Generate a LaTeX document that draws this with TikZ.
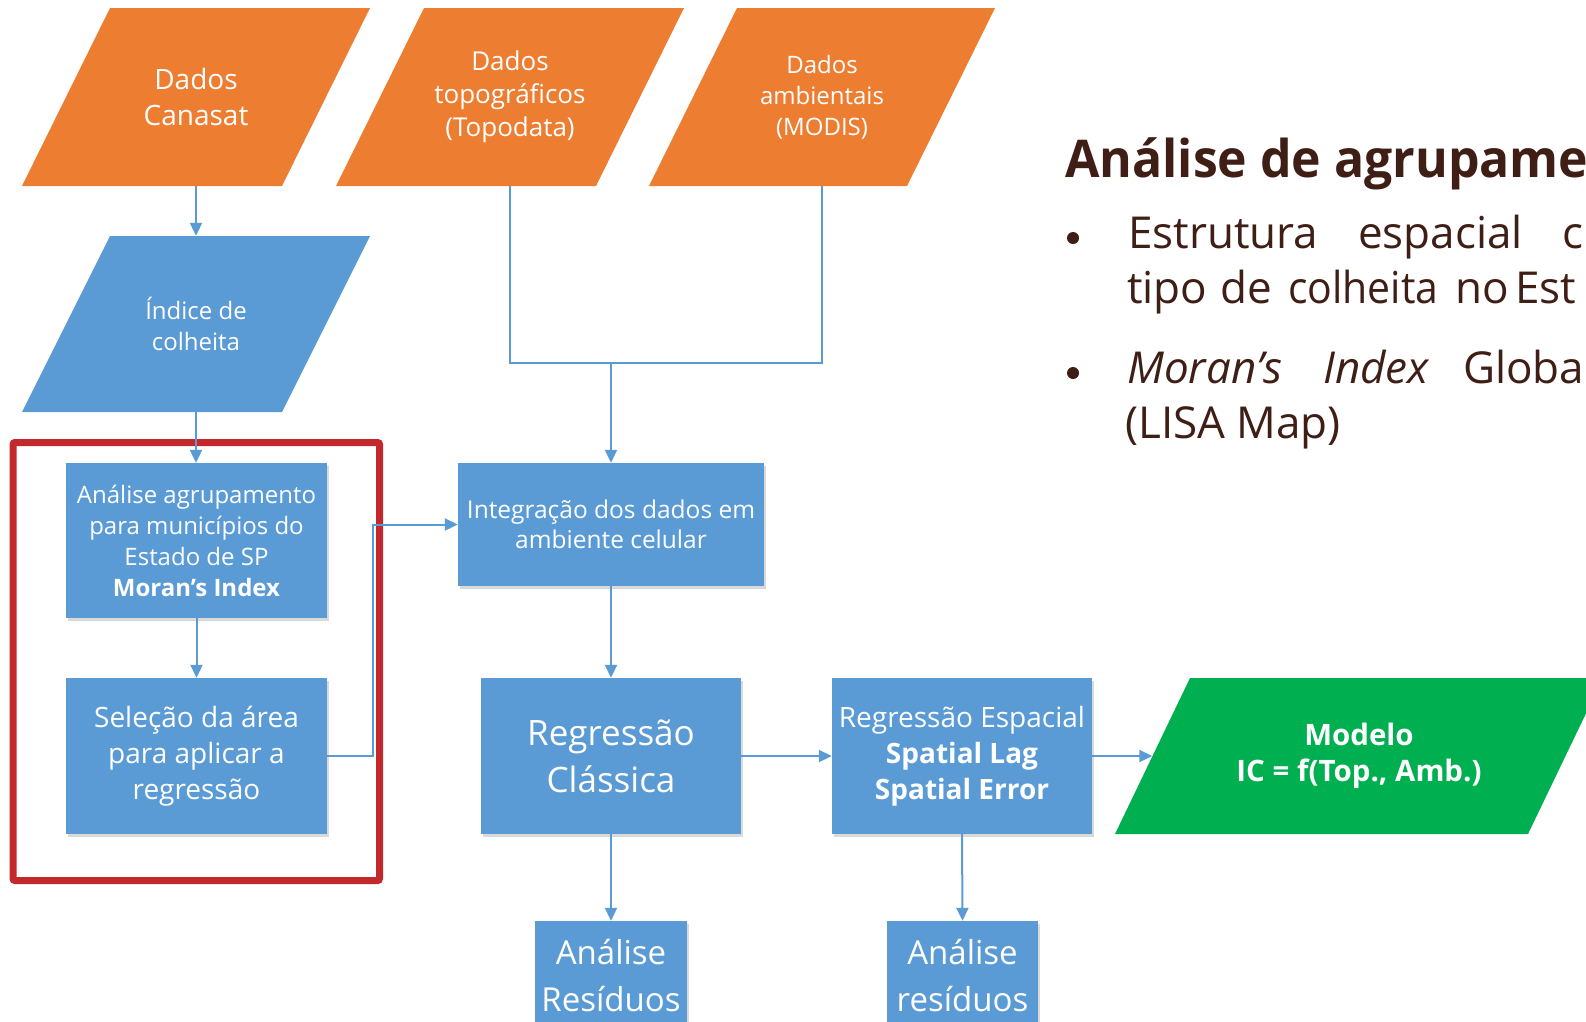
\documentclass[tikz,border=0pt]{standalone}
\usepackage{fontspec}
\setmainfont{Open Sans}
\newfontfamily\titlefont[FakeStretch=0.96]{Open Sans}
\newfontfamily\narrowfont[FakeStretch=0.93]{Open Sans}
\usetikzlibrary{arrows.meta,shadows}
\definecolor{boxblue}{HTML}{5B9BD5}
\definecolor{orng}{HTML}{ED7D31}
\definecolor{grn}{HTML}{00AF50}
\definecolor{redbox}{HTML}{C3282C}
\definecolor{brownt}{HTML}{3F1E16}
\definecolor{linkblue}{HTML}{5B9BD5}
\tikzset{
  fs/.style 2 args={font=\fontsize{#1}{#2}\selectfont},
  fsb/.style 2 args={font=\bfseries\fontsize{#1}{#2}\selectfont},
  rbox/.style={rectangle, fill=boxblue, text=white, inner sep=0pt, align=center,
    drop shadow={shadow xshift=1.5pt, shadow yshift=-2.5pt, opacity=0.15, fill=black}},
  pbox/.style n args={2}{rectangle, inner sep=0pt, align=center, text=white,
    path picture={\fill[#1] ([xshift=#2]path picture bounding box.north west)
      -- (path picture bounding box.north east)
      -- ([xshift=-#2]path picture bounding box.south east)
      -- (path picture bounding box.south west) -- cycle;}},
  link/.style={draw=linkblue, line width=2pt},
  conn/.style={link, -{Triangle[length=13pt,width=12pt]}},
  rtext/.style={anchor=base west, inner sep=0pt, text=brownt, font=\fontsize{44}{54}\selectfont},
  bul/.style={circle, fill=brownt, inner sep=0pt, minimum size=12pt}
}
\begin{document}
\begin{tikzpicture}[x=1pt,y=-1pt]
\useasboundingbox (0,0) rectangle (1586,1021);
\clip (0,0) rectangle (1586,1021);
\fill[white] (0,0) rectangle (1586,1021);

% input parallelograms
\node[pbox={orng}{88pt}, minimum width=348pt, minimum height=178pt, fs={28}{36}] (canasat) at (196,97) {Dados\\Canasat};
\node[pbox={orng}{88pt}, minimum width=348pt, minimum height=178pt, fs={26}{33}] (topo) at (510,97) {Dados\\topográficos\\(Topodata)};
\node[pbox={orng}{88pt}, minimum width=346pt, minimum height=178pt, fs={24}{31}] (amb) at (822,97) {Dados\\ambientais\\(MODIS)};
\node[pbox={boxblue}{88pt}, minimum width=348pt, minimum height=176pt, fs={24}{31}] (indice) at (196,324) {Índice de\\colheita};

% red frame
\node[draw=redbox, line width=7pt, rounded corners=2pt, minimum width=366.5pt, minimum height=438pt, inner sep=0pt] (frame) at (196.25,661.5) {};

% process boxes
\node[rbox, minimum width=261pt, minimum height=155pt, fs={24}{31}] (analise) at (196.5,540.5) {Análise agrupamento\\para municípios do\\Estado de SP\\\textbf{Moran’s Index}};
\node[rbox, minimum width=261pt, minimum height=156pt, fs={28}{36}] (selecao) at (196.5,756) {Seleção da área\\para aplicar a\\regressão};
\node[rbox, minimum width=306pt, minimum height=123pt, fs={24.5}{30}] (integ) at (611,524.5) {Integração dos dados em\\ambiente celular};
\node[rbox, minimum width=260pt, minimum height=156pt, fs={35}{47}] (classica) at (611,756) {Regressão\\Clássica};
\node[rbox, minimum width=260pt, minimum height=156pt, fs={28}{36}] (espacial) at (962,756) {Regressão Espacial\\\textbf{Spatial Lag}\\\textbf{Spatial Error}};
\node[pbox={grn}{75pt}, minimum width=488pt, minimum height=156pt, fsb={29.5}{36}] (modelo) at (1359,756) {Modelo\\IC = f(Top., Amb.)};
\node[rbox, minimum width=152pt, minimum height=108pt, fs={33}{47}] (res1) at (611,975) {Análise\\Resíduos};
\node[rbox, minimum width=151pt, minimum height=108pt, fs={33}{47}] (res2) at (962.5,975) {Análise\\resíduos};

% connectors
\coordinate (join) at (611,363);
\draw[conn] (canasat.south) -- (indice.north);
\draw[conn] (indice.south) -- (indice.south |- analise.north);
\draw[conn] (analise.south) -- (selecao.north);
\draw[conn] (selecao.east) -- ++(46,0) |- (integ.west);
\draw[link] (topo.south) |- (join) -| (amb.south);
\draw[conn] (join) -- (integ.north);
\draw[conn] (integ.south) -- (classica.north);
\draw[conn] (classica.east) -- (espacial.west);
\draw[conn] (espacial.east) -- ([xshift=37.5pt]modelo.west);
\draw[conn] (classica.south) -- (res1.north);
\draw[conn] (espacial.south) -- (res2.north);

% right-hand text
\node[anchor=base west, inner sep=0pt, text=brownt, font=\titlefont\bfseries\fontsize{52}{60}\selectfont] (title) at (1065,177) {Análise de agrupame};
\node[bul] (b1) at (1073,238) {};
\node[rtext] (w11) at (1128,248) {Estrutura};
\node[rtext] (w12) at (1358,248) {espacial};
\node[rtext] (w13) at (1562,248) {c};
\node[rtext] (w21) at (1127,303) {tipo};
\node[rtext] (w22) at (1220,303) {de};
\node[rtext] (w23) at (1288,303) {\narrowfont colheita};
\node[rtext] (w24) at (1455,303) {no};
\node[rtext] (w25) at (1515,303) {Est};
\node[bul] (b2) at (1073,373) {};
\node[rtext] (w31) at (1127,383) {\itshape Moran’s};
\node[rtext] (w32) at (1323,383) {\itshape Index};
\node[rtext] (w33) at (1463,383) {Globa};
\node[rtext] (w41) at (1125,438) {(LISA Map)};
\end{tikzpicture}
\end{document}
